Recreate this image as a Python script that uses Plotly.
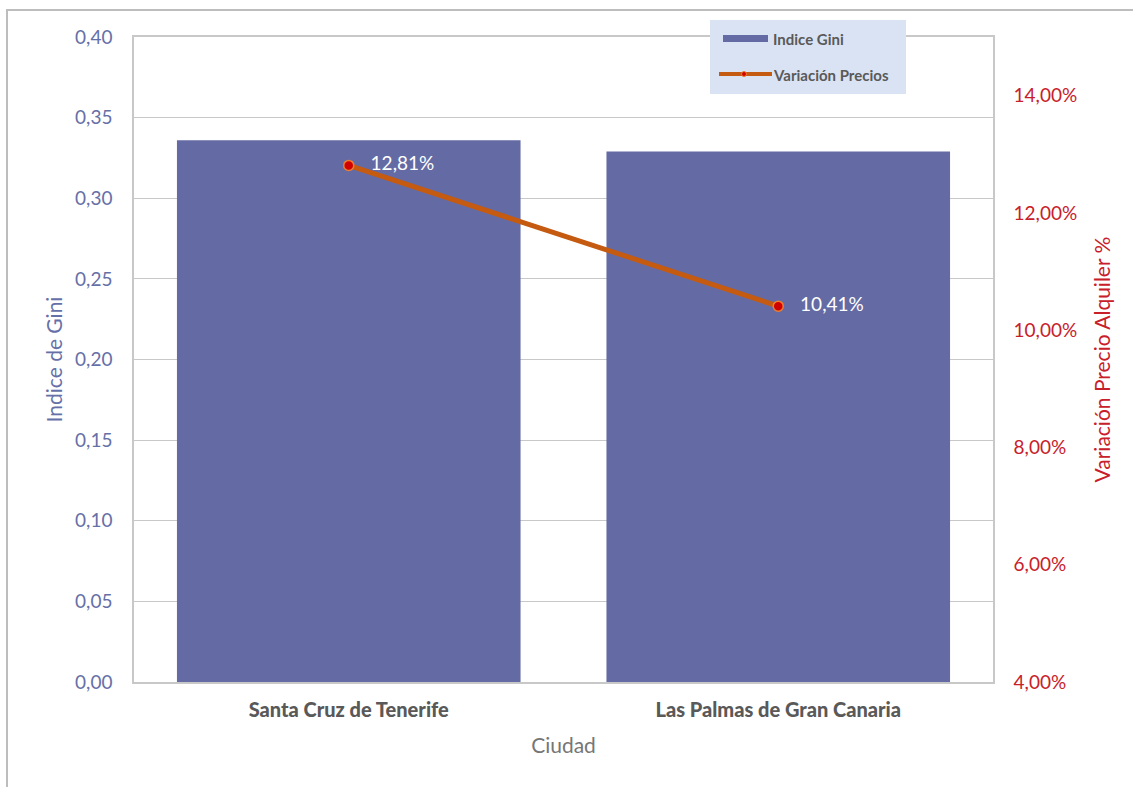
import plotly.graph_objects as go

ciudades = ["Santa Cruz de Tenerife", "Las Palmas de Gran Canaria"]
indice_gini = [0.336, 0.329]
variacion_precios = [0.1281, 0.1041]
etiquetas_variacion = ["12,81%", "10,41%"]

FONT = "Lato"
BAR_COLOR = "#646BA4"
LEFT_COLOR = "#6670A8"
RIGHT_COLOR = "#C8202A"
GRID = "#C8C8C8"

fig = go.Figure()
fig.add_trace(go.Bar(
    x=ciudades, y=indice_gini, name="Indice Gini",
    marker=dict(color=BAR_COLOR, line=dict(width=0)),
    showlegend=False, yaxis="y",
))
fig.add_trace(go.Scatter(
    x=ciudades, y=variacion_precios, name="Variación Precios",
    mode="lines+markers+text",
    line=dict(color="#C55A11", width=5),
    marker=dict(color="#D00000", size=10, line=dict(color="#ED7D31", width=1.5)),
    text=["   " + t for t in etiquetas_variacion], textposition="middle right",
    textfont=dict(color="white", size=19, family=FONT),
    showlegend=False, yaxis="y2", cliponaxis=False,
))

fig.update_layout(
    width=1133, height=787,
    margin=dict(l=134, r=140, t=37, b=105),
    paper_bgcolor="white", plot_bgcolor="white",
    separators=",.",
    bargap=0.2,
    font=dict(family=FONT),
    xaxis=dict(
        showline=True, mirror=True, linecolor=GRID, linewidth=1.5,
        tickfont=dict(size=20, color="#595959", family=FONT + " Black"),
        ticks="outside", ticklen=9, tickcolor="rgba(0,0,0,0)",
        title=dict(text="Ciudad", font=dict(size=21, color="#767676"), standoff=19),
    ),
    yaxis=dict(
        range=[0, 0.40], dtick=0.05, tickformat=".2f",
        showgrid=True, gridcolor=GRID, gridwidth=1.2,
        showline=True, linecolor=GRID, linewidth=1.5, zeroline=False,
        tickfont=dict(size=19, color=LEFT_COLOR),
        ticks="outside", ticklen=16, tickcolor="rgba(0,0,0,0)",
        title=dict(text="Indice de Gini", font=dict(size=21, color=LEFT_COLOR), standoff=7),
    ),
    yaxis2=dict(
        overlaying="y", side="right",
        range=[0.04, 0.15], tick0=0.04, dtick=0.02, tickformat=".2%",
        showgrid=False, zeroline=False, showline=True, linecolor=GRID, linewidth=1.5,
        tickfont=dict(size=19, color=RIGHT_COLOR),
        ticks="outside", ticklen=15, tickcolor="rgba(0,0,0,0)",
        title=dict(text="Variación Precio Alquiler %", font=dict(size=21, color=RIGHT_COLOR), standoff=19),
    ),
)

# outer chart border
fig.add_shape(type="rect", xref="paper", yref="paper",
              x0=(7 - 134) / 859, x1=1.3, y0=-0.3, y1=(682 - 10) / 645,
              line=dict(color="#BDBDBD", width=2), fillcolor="rgba(0,0,0,0)", layer="below")

# custom legend
def px_x(p):
    return (p - 134) / 859

def px_y(p):
    return (682 - p) / 645

fig.add_shape(type="rect", xref="paper", yref="paper",
              x0=px_x(710), x1=px_x(906), y0=px_y(94), y1=px_y(20),
              line=dict(width=0), fillcolor="#DAE3F3", layer="above")
fig.add_shape(type="rect", xref="paper", yref="paper",
              x0=px_x(723), x1=px_x(768), y0=px_y(42), y1=px_y(35),
              line=dict(width=0), fillcolor=BAR_COLOR, layer="above")
fig.add_shape(type="line", xref="paper", yref="paper",
              x0=px_x(719), x1=px_x(772), y0=px_y(74), y1=px_y(74),
              line=dict(color="#C55A11", width=4), layer="above")
fig.add_shape(type="circle", xref="paper", yref="paper",
              x0=px_x(741.5), x1=px_x(746.5), y0=px_y(76.5), y1=px_y(71.5),
              line=dict(color="#ED7D31", width=1), fillcolor="#D00000", layer="above")
fig.add_annotation(xref="paper", yref="paper", x=px_x(771), y=px_y(39),
                   text="<b>Indice Gini</b>", showarrow=False, xanchor="left", yanchor="middle",
                   font=dict(size=15, color="#595959", family=FONT))
fig.add_annotation(xref="paper", yref="paper", x=px_x(771), y=px_y(75),
                   text="<b>Variación Precios</b>", showarrow=False, xanchor="left", yanchor="middle",
                   font=dict(size=15, color="#595959", family=FONT))

fig.write_html("out.html")
